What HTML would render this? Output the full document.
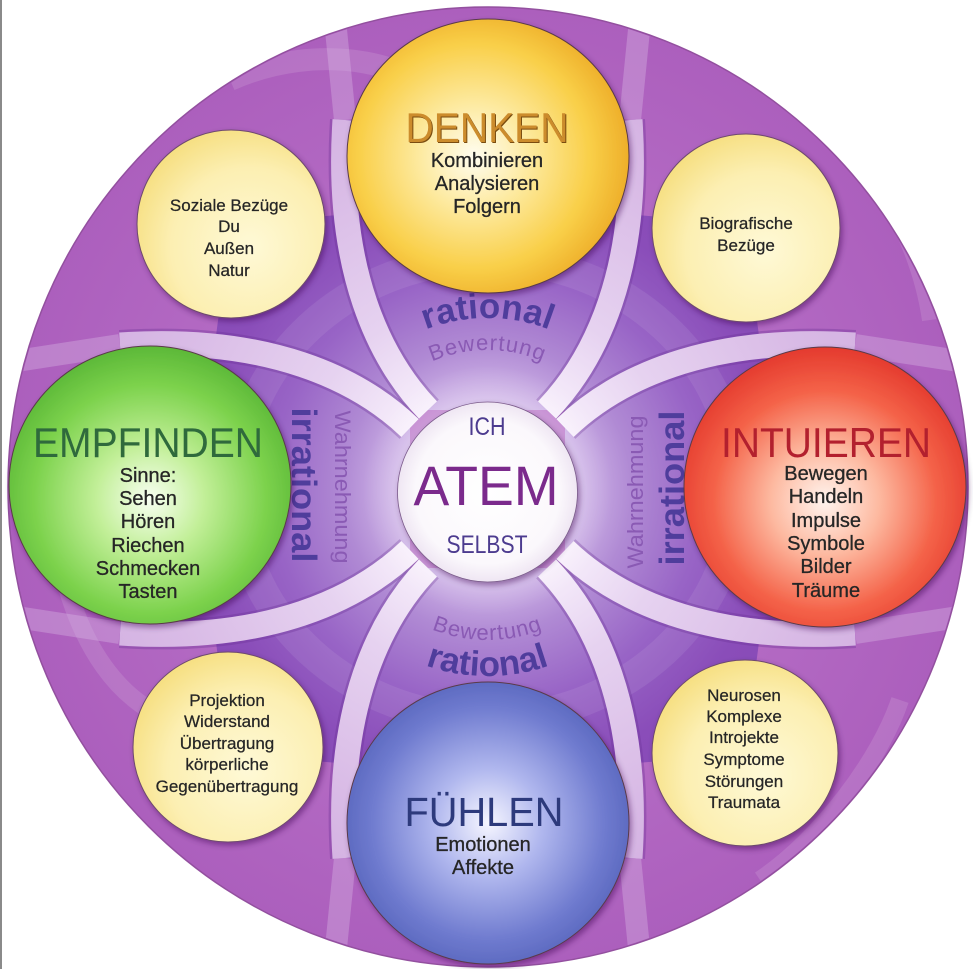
<!DOCTYPE html>
<html>
<head>
<meta charset="utf-8">
<style>
html,body{margin:0;padding:0;background:#fff;}
svg{display:block;}
text{font-family:"Liberation Sans",Arial,sans-serif;}
</style>
</head>
<body>
<svg width="973" height="969" viewBox="0 0 973 969" xmlns="http://www.w3.org/2000/svg">
<defs>
  <radialGradient id="outerG" gradientUnits="userSpaceOnUse" cx="488" cy="487" r="480">
    <stop offset="0" stop-color="#c48ad2"/>
    <stop offset="0.6" stop-color="#b46bc4"/>
    <stop offset="1" stop-color="#ac5fbd"/>
  </radialGradient>
  <radialGradient id="innerG" gradientUnits="userSpaceOnUse" cx="487.5" cy="489" r="480">
    <stop offset="0" stop-color="#e8daf3"/>
    <stop offset="0.19" stop-color="#d0b6e8"/>
    <stop offset="0.3" stop-color="#b08ad4"/>
    <stop offset="0.45" stop-color="#9864c6"/>
    <stop offset="0.6" stop-color="#8a4db9"/>
    <stop offset="1" stop-color="#8245b2"/>
  </radialGradient>
  <radialGradient id="bandG" gradientUnits="userSpaceOnUse" cx="487.5" cy="489" r="480">
    <stop offset="0" stop-color="#ffffff"/>
    <stop offset="0.2" stop-color="#f8f0fc"/>
    <stop offset="0.4" stop-color="#e6d2f0"/>
    <stop offset="0.7" stop-color="#d9bbe6"/>
    <stop offset="1" stop-color="#d0abdf"/>
  </radialGradient>
  <radialGradient id="yelG" cx="0.45" cy="0.5" r="0.55">
    <stop offset="0" stop-color="#fffdf0"/>
    <stop offset="0.35" stop-color="#fdeaa0"/>
    <stop offset="0.75" stop-color="#f9cf48"/>
    <stop offset="1" stop-color="#eeaf2a"/>
  </radialGradient>
  <radialGradient id="grnG" cx="0.5" cy="0.55" r="0.55">
    <stop offset="0" stop-color="#f8fff2"/>
    <stop offset="0.35" stop-color="#c2ef98"/>
    <stop offset="0.75" stop-color="#7cd24c"/>
    <stop offset="1" stop-color="#5cb838"/>
  </radialGradient>
  <radialGradient id="redG" cx="0.5" cy="0.55" r="0.55">
    <stop offset="0" stop-color="#fff4ee"/>
    <stop offset="0.35" stop-color="#fdb9a0"/>
    <stop offset="0.72" stop-color="#f46248"/>
    <stop offset="1" stop-color="#e43a2e"/>
  </radialGradient>
  <radialGradient id="bluG" cx="0.5" cy="0.5" r="0.55">
    <stop offset="0" stop-color="#f6f6ff"/>
    <stop offset="0.35" stop-color="#b0b7ee"/>
    <stop offset="0.75" stop-color="#6f7bcf"/>
    <stop offset="1" stop-color="#5562ba"/>
  </radialGradient>
  <radialGradient id="smallG" cx="0.6" cy="0.62" r="0.7">
    <stop offset="0" stop-color="#fef9d6"/>
    <stop offset="0.6" stop-color="#fcefb2"/>
    <stop offset="1" stop-color="#f5dc78"/>
  </radialGradient>
  <radialGradient id="whiteG" cx="0.5" cy="0.5" r="0.5">
    <stop offset="0" stop-color="#ffffff"/>
    <stop offset="0.8" stop-color="#fbf8fc"/>
    <stop offset="1" stop-color="#efe6f3"/>
  </radialGradient>
  <radialGradient id="glowG" cx="0.5" cy="0.5" r="0.5">
    <stop offset="0" stop-color="#ffffff" stop-opacity="0.7"/>
    <stop offset="0.65" stop-color="#ffffff" stop-opacity="0.25"/>
    <stop offset="1" stop-color="#ffffff" stop-opacity="0"/>
  </radialGradient>
  <filter id="sh" x="-20%" y="-20%" width="140%" height="140%">
    <feDropShadow dx="2" dy="3" stdDeviation="3" flood-color="#3a1050" flood-opacity="0.45"/>
  </filter>
  <clipPath id="outerClip"><circle cx="488" cy="487" r="479"/></clipPath>

  <path id="arcTopR" d="M 316.5,489 A 171 171 0 0 1 658.5,489"/>
  <path id="arcTopB" d="M 348.5,489 A 139 139 0 0 1 626.5,489"/>
  <path id="arcBotB" d="M 336.5,489 A 151 151 0 0 0 638.5,489"/>
  <path id="arcBotR" d="M 300.5,489 A 187 187 0 0 0 674.5,489"/>
</defs>

<rect width="973" height="969" fill="#ffffff"/>
<rect x="0" y="0" width="2" height="969" fill="#8a8a8a"/>

<!-- outer disc -->
<circle cx="488" cy="487" r="480" fill="url(#outerG)" stroke="#93509f" stroke-width="1.5"/>

<g clip-path="url(#outerClip)">
  <!-- faint swirls -->
  <g fill="none" stroke="#ffffff" stroke-opacity="0.12">
    <path d="M 230,80 C 320,40 420,60 470,120" stroke-width="22"/>
    <path d="M 60,560 C 80,650 120,700 170,720" stroke-width="18"/>
    <path d="M 760,880 C 820,840 880,760 900,700" stroke-width="18"/>
    <path d="M 820,110 C 880,170 920,250 930,320" stroke-width="16"/>
  </g>

  <!-- inner petals and wedges -->
  <g fill="url(#innerG)">
    <path d="M 428,410 C 380,360 335,270 345,120 L 630,120 C 640,270 595,360 547,410 Z"/>
    <path d="M 428,568 C 380,618 335,708 345,858 L 630,858 C 640,708 595,618 547,568 Z"/>
    <path d="M 410,428 C 360,380 270,335 120,345 L 120,633 C 270,643 360,598 410,550 Z"/>
    <path d="M 565,428 C 615,380 705,335 855,345 L 855,633 C 705,643 615,598 565,550 Z"/>
    <path d="M 415,400 C 370,345 338,280 338,215 L 231,224 L 215,343 C 290,345 360,375 405,420 Z"/>
    <path d="M 560,400 C 605,345 637,280 637,215 L 744,224 L 760,343 C 685,345 615,375 570,420 Z"/>
    <path d="M 415,578 C 370,633 338,698 338,763 L 231,754 L 215,635 C 290,633 360,603 405,558 Z"/>
    <path d="M 560,578 C 605,633 637,698 637,763 L 744,754 L 760,635 C 685,633 615,603 570,558 Z"/>
  </g>

  <!-- light swirl inside -->
  <g fill="none" stroke="#ffffff" stroke-opacity="0.08">
    <ellipse cx="487" cy="489" rx="250" ry="230" stroke-width="30"/>
  </g>

  <!-- band extensions (faint) -->
  <g fill="none" stroke="#dcbfe8" stroke-opacity="0.35" stroke-width="22">
    <path d="M 345,120 L 336,30"/>
    <path d="M 120,345 L 10,362"/>
    <path d="M 630,120 L 639,30"/>
    <path d="M 855,345 L 965,362"/>
    <path d="M 345,858 L 336,948"/>
    <path d="M 120,633 L 10,616"/>
    <path d="M 630,858 L 639,948"/>
    <path d="M 855,633 L 965,616"/>
  </g>

  <!-- bands: shadow -->
  <g fill="none" stroke="#6a3294" stroke-opacity="0.35" stroke-width="30">
    <path d="M 428,410 C 380,360 335,270 345,120"/>
    <path d="M 410,428 C 360,380 270,335 120,345"/>
    <path d="M 547,410 C 595,360 640,270 630,120"/>
    <path d="M 565,428 C 615,380 705,335 855,345"/>
    <path d="M 428,568 C 380,618 335,708 345,858"/>
    <path d="M 410,550 C 360,598 270,643 120,633"/>
    <path d="M 547,568 C 595,618 640,708 630,858"/>
    <path d="M 565,550 C 615,598 705,643 855,633"/>
  </g>
  <!-- bands: light -->
  <g fill="none" stroke="url(#bandG)" stroke-width="25">
    <path d="M 428,410 C 380,360 335,270 345,120"/>
    <path d="M 410,428 C 360,380 270,335 120,345"/>
    <path d="M 547,410 C 595,360 640,270 630,120"/>
    <path d="M 565,428 C 615,380 705,335 855,345"/>
    <path d="M 428,568 C 380,618 335,708 345,858"/>
    <path d="M 410,550 C 360,598 270,643 120,633"/>
    <path d="M 547,568 C 595,618 640,708 630,858"/>
    <path d="M 565,550 C 615,598 705,643 855,633"/>
  </g>

  <!-- center glow -->
  <circle cx="487.5" cy="490" r="125" fill="url(#glowG)"/>
</g>

<!-- arc / rotated labels -->
<text font-size="35" font-weight="bold" fill="#4f3d9c"><textPath href="#arcTopR" startOffset="50%" text-anchor="middle">rational</textPath></text>
<text font-size="22" fill="#8a5ab4" letter-spacing="1"><textPath href="#arcTopB" startOffset="50%" text-anchor="middle">Bewertung</textPath></text>
<text font-size="22" fill="#8a5ab4" letter-spacing="1"><textPath href="#arcBotB" startOffset="50%" text-anchor="middle">Bewertung</textPath></text>
<text font-size="35" font-weight="bold" fill="#4f3d9c"><textPath href="#arcBotR" startOffset="50%" text-anchor="middle">rational</textPath></text>

<text transform="translate(292,485) rotate(90)" font-size="35" fill="#4f3d9c" font-weight="bold" text-anchor="middle" textLength="155" lengthAdjust="spacingAndGlyphs">irrational</text>
<text transform="translate(335,487) rotate(90)" font-size="22" fill="#8a5ab4" text-anchor="middle" textLength="153" lengthAdjust="spacingAndGlyphs">Wahrnehmung</text>
<text transform="translate(684,488) rotate(-90)" font-size="35" fill="#4f3d9c" font-weight="bold" text-anchor="middle" textLength="155" lengthAdjust="spacingAndGlyphs">irrational</text>
<text transform="translate(643,492) rotate(-90)" font-size="22" fill="#8a5ab4" text-anchor="middle" textLength="153" lengthAdjust="spacingAndGlyphs">Wahrnehmung</text>

<!-- small circles -->
<g filter="url(#sh)" stroke="#6e4a6e" stroke-width="1">
  <circle cx="231" cy="224" r="94" fill="url(#smallG)"/>
  <circle cx="746" cy="228" r="94" fill="url(#smallG)"/>
  <circle cx="228" cy="747" r="95" fill="url(#smallG)"/>
  <circle cx="745" cy="753" r="93" fill="url(#smallG)"/>
</g>

<!-- big circles -->
<g filter="url(#sh)" stroke="#5a3a4a" stroke-width="1">
  <ellipse cx="488" cy="156" rx="141" ry="137" fill="url(#yelG)"/>
  <ellipse cx="150" cy="485" rx="141" ry="139" fill="url(#grnG)"/>
  <ellipse cx="825" cy="487" rx="141" ry="140" fill="url(#redG)"/>
  <ellipse cx="488" cy="823" rx="141" ry="141" fill="url(#bluG)"/>
</g>

<!-- center circle -->
<circle cx="487.5" cy="492" r="90" fill="url(#whiteG)" filter="url(#sh)" stroke="#7a5a8a" stroke-width="0.8"/>

<!-- titles -->
<text x="488" y="143" font-size="42" fill="#7a4c10" text-anchor="middle" textLength="163" lengthAdjust="spacingAndGlyphs">DENKEN</text>
<text x="487" y="142" font-size="42" fill="#cc8c2c" text-anchor="middle" textLength="163" lengthAdjust="spacingAndGlyphs">DENKEN</text>
<text x="148" y="457" font-size="42" fill="#2f6a3c" text-anchor="middle" textLength="230" lengthAdjust="spacingAndGlyphs">EMPFINDEN</text>
<text x="826" y="457" font-size="42" fill="#b3202e" text-anchor="middle" textLength="210" lengthAdjust="spacingAndGlyphs">INTUIEREN</text>
<text x="484" y="826" font-size="41" fill="#2d3a7c" text-anchor="middle" textLength="159" lengthAdjust="spacingAndGlyphs">FÜHLEN</text>

<!-- subtexts big circles -->
<g font-size="20" fill="#262626" text-anchor="middle" stroke="#262626" stroke-width="0.3">
  <text x="487" y="167">Kombinieren</text>
  <text x="487" y="190">Analysieren</text>
  <text x="487" y="213">Folgern</text>

  <text x="148" y="482">Sinne:</text>
  <text x="148" y="505">Sehen</text>
  <text x="148" y="528">Hören</text>
  <text x="148" y="552">Riechen</text>
  <text x="148" y="575">Schmecken</text>
  <text x="148" y="598">Tasten</text>

  <text x="826" y="480">Bewegen</text>
  <text x="826" y="503">Handeln</text>
  <text x="826" y="527">Impulse</text>
  <text x="826" y="550">Symbole</text>
  <text x="826" y="573">Bilder</text>
  <text x="826" y="597">Träume</text>

  <text x="483" y="851">Emotionen</text>
  <text x="483" y="874">Affekte</text>
</g>

<!-- small circle texts -->
<g font-size="17" fill="#262626" text-anchor="middle" stroke="#262626" stroke-width="0.25">
  <text x="229" y="211">Soziale Bezüge</text>
  <text x="229" y="232">Du</text>
  <text x="229" y="254">Außen</text>
  <text x="229" y="276">Natur</text>

  <text x="746" y="229">Biografische</text>
  <text x="746" y="251">Bezüge</text>

  <text x="227" y="706">Projektion</text>
  <text x="227" y="727">Widerstand</text>
  <text x="227" y="749">Übertragung</text>
  <text x="227" y="770">körperliche</text>
  <text x="227" y="792">Gegenübertragung</text>

  <text x="744" y="701">Neurosen</text>
  <text x="744" y="722">Komplexe</text>
  <text x="744" y="743">Introjekte</text>
  <text x="744" y="765">Symptome</text>
  <text x="744" y="787">Störungen</text>
  <text x="744" y="808">Traumata</text>
</g>

<!-- center texts -->
<text x="487" y="435" font-size="25" fill="#4c3b8f" text-anchor="middle" textLength="37" lengthAdjust="spacingAndGlyphs">ICH</text>
<text x="486" y="505" font-size="56" fill="#7b2a8c" text-anchor="middle" textLength="145" lengthAdjust="spacingAndGlyphs">ATEM</text>
<text x="487" y="553" font-size="25" fill="#4c3b8f" text-anchor="middle" textLength="81" lengthAdjust="spacingAndGlyphs">SELBST</text>
</svg>
</body>
</html>
